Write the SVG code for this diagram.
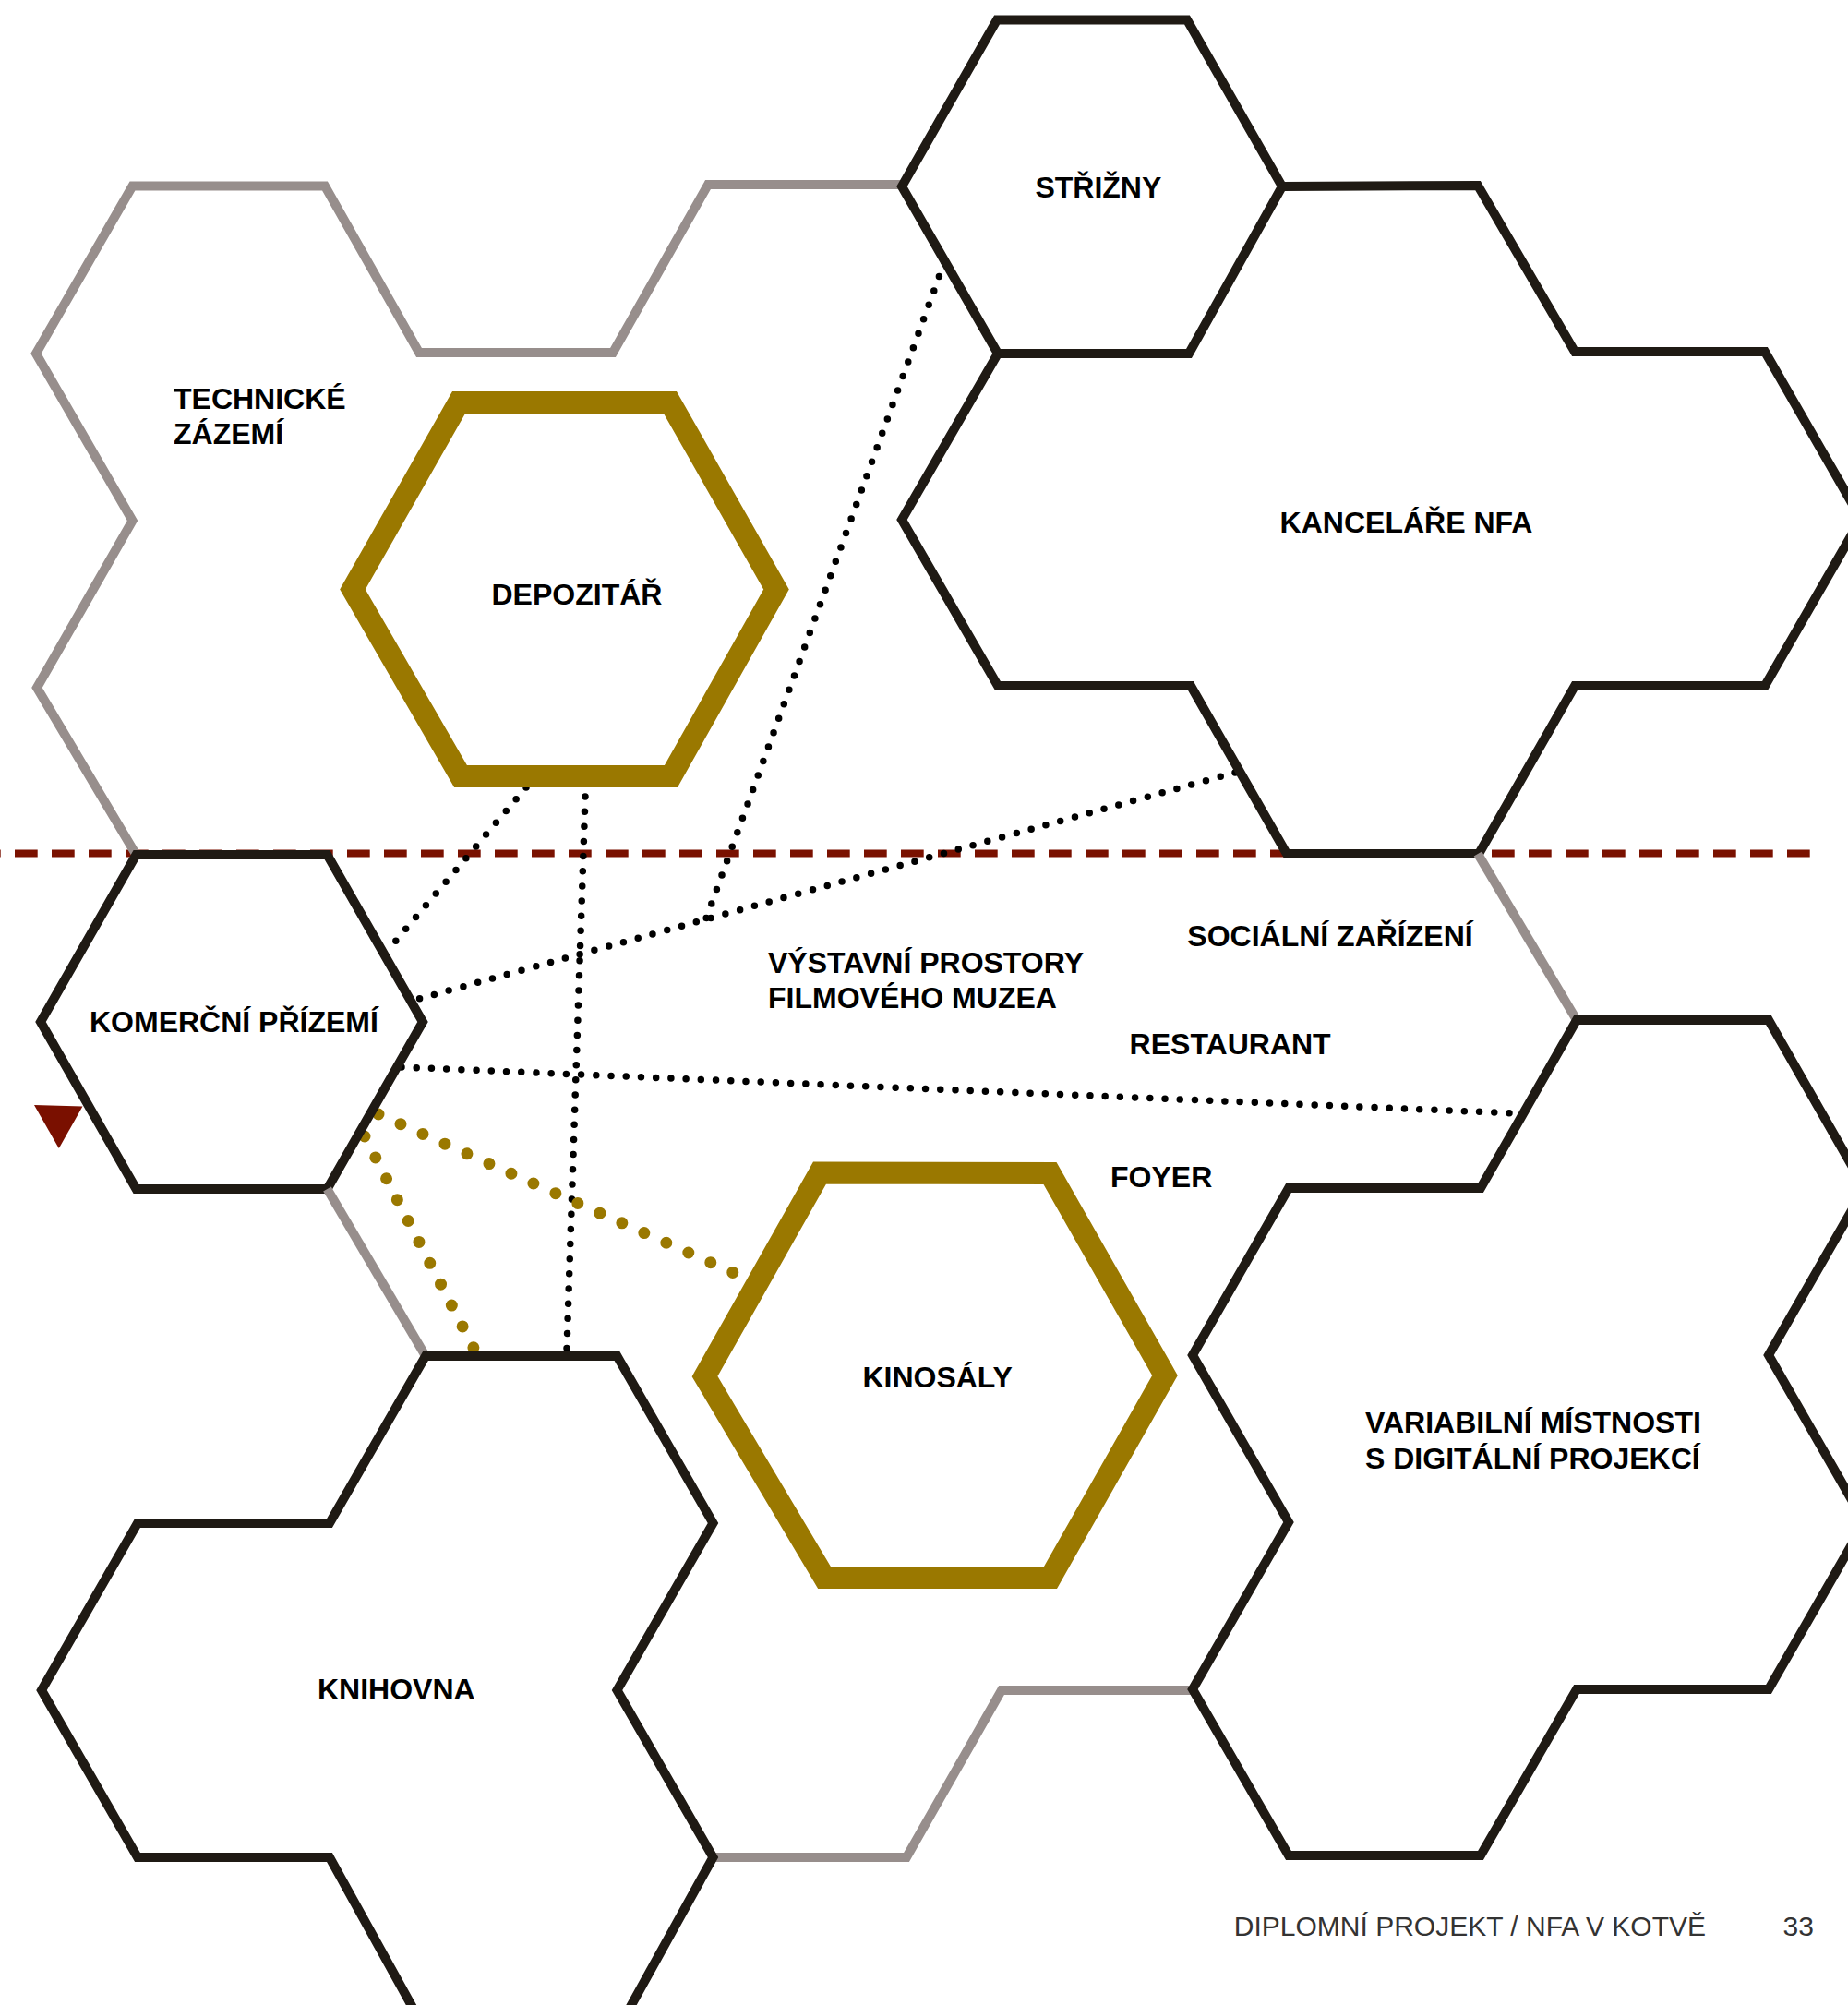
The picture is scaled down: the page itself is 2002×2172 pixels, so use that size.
<svg xmlns="http://www.w3.org/2000/svg" width="2002" height="2172" viewBox="0 0 2002 2172">
<style>
.dark{fill:none;stroke:#1f1a14;stroke-width:10;stroke-linejoin:miter;stroke-miterlimit:10}
.gray{fill:none;stroke:#978e8c;stroke-width:10;stroke-linejoin:miter;stroke-miterlimit:10}
.gold{fill:none;stroke:#9a7800;stroke-width:24;stroke-linejoin:miter;stroke-miterlimit:10}
.dots{fill:none;stroke:#000;stroke-width:7.5;stroke-linecap:round}
.gdots{fill:none;stroke:#9a7800;stroke-width:13;stroke-linecap:round}
.lbl{font-family:"Liberation Sans",Arial,sans-serif;font-weight:bold;font-size:32px;fill:#000}
.foot{font-family:"Liberation Sans",Arial,sans-serif;font-weight:normal;font-size:30px;fill:#333}
</style>
<rect width="2002" height="2172" fill="#fff"/>
<g id="level-line">
<line x1="0" y1="924.5" x2="1968" y2="924.5" stroke="#7a1100" stroke-width="8" stroke-dasharray="24.7 15.3" stroke-dashoffset="24"/>
<polygon points="37,1197 89.5,1198.5 63.8,1244" fill="#7a1000"/>
</g>
<g id="connectors">
<line class="dots" x1="1023" y1="284" x2="765" y2="995" stroke-dasharray="0 16.43"/>
<line class="dots" x1="1338" y1="837" x2="454" y2="1082" stroke-dasharray="0 16.37"/>
<line class="dots" x1="570" y1="853" x2="428.7" y2="1019.3" stroke-dasharray="0 16.77"/>
<line class="dots" x1="634" y1="863" x2="614" y2="1461" stroke-dasharray="0 16.16"/>
<line class="dots" x1="435" y1="1156" x2="1636" y2="1205.7" stroke-dasharray="0 16.23"/>
<line class="gdots" x1="410" y1="1207" x2="794" y2="1378.5" stroke-dasharray="0 26.27"/>
<line class="gdots" x1="395" y1="1231" x2="513" y2="1460" stroke-dasharray="0 25.74"/>
</g>
<g id="technicke-zazemi">
<polyline class="gray" points="147.5,926 40,745 143.5,564 39,383 143.5,201.5 352,201.5 454,382 664,382 767,200 977,200"/>
<text class="lbl" x="188" y="443">TECHNICKÉ</text>
<text class="lbl" x="188" y="481">ZÁZEMÍ</text>
</g>
<g id="depozitar">
<polygon class="gold" points="382,638.5 497,436 726,436 841,638.5 727,841 499,841"/>
<text class="lbl" x="532.5" y="654.5">DEPOZITÁŘ</text>
</g>
<g id="strizny">
<polygon class="dark" points="977,202 1080,21.5 1286,21.5 1389,202 1288,383 1081,383"/>
<text class="lbl" x="1121.4" y="214.3">STŘIŽNY</text>
</g>
<g id="kancelare-nfa">
<polyline class="dark" points="1081,383 977,563 1081,743 1290,743 1394,925 1602,925 1706,743 1912,743 2016,562 1912,381 1706,381 1601,201 1389,202"/>
<text class="lbl" x="1386.6" y="576.5">KANCELÁŘE NFA</text>
</g>
<g id="komercni-prizemi">
<polygon class="dark" points="44,1107 147.5,926 354.5,926 458,1107 354.5,1288 147.5,1288"/>
<text class="lbl" x="97" y="1118.3">KOMERČNÍ PŘÍZEMÍ</text>
</g>
<g id="vystavni-prostory">
<polyline class="gray" points="354.5,1288 461,1469"/>
<polyline class="gray" points="1601,925 1708,1105"/>
<polyline class="gray" points="772.5,2012 982,2012 1085,1831 1292,1831"/>
<text class="lbl" x="832" y="1053.6">VÝSTAVNÍ PROSTORY</text>
<text class="lbl" x="832" y="1092.4">FILMOVÉHO MUZEA</text>
</g>
<g id="socialni-zarizeni">
<text class="lbl" x="1286.3" y="1025.4">SOCIÁLNÍ ZAŘÍZENÍ</text>
</g>
<g id="restaurant">
<text class="lbl" x="1223.6" y="1141.5">RESTAURANT</text>
</g>
<g id="foyer">
<text class="lbl" x="1203" y="1285.7">FOYER</text>
</g>
<g id="kinosaly">
<polygon class="gold" points="763.5,1491 888,1270.5 1137.5,1271 1262,1490 1138,1709 893,1709"/>
<text class="lbl" x="934.4" y="1503">KINOSÁLY</text>
</g>
<g id="knihovna">
<polyline class="dark" points="668.5,2200 772.5,2012 668.5,1831 772.5,1650 668.5,1469 461,1469 357,1650 149,1650 45,1831 149,2012 357,2012 461,2200"/>
<text class="lbl" x="344" y="1840.5">KNIHOVNA</text>
</g>
<g id="variabilni-mistnosti">
<polygon class="dark" points="1708,1105 1604,1287 1396,1287 1292,1468 1396,1649 1292,1830 1396,2010 1604,2010 1708,1830 1916,1830 2020,1649 1916,1468 2020,1287 1916,1105"/>
<text class="lbl" x="1479" y="1552">VARIABILNÍ MÍSTNOSTI</text>
<text class="lbl" x="1479" y="1590.5">S DIGITÁLNÍ PROJEKCÍ</text>
</g>
<g id="footer">
<text class="foot" x="1336.8" y="2097">DIPLOMNÍ PROJEKT / NFA V KOTVĚ</text>
<text class="foot" x="1931.6" y="2097">33</text>
</g>
</svg>
